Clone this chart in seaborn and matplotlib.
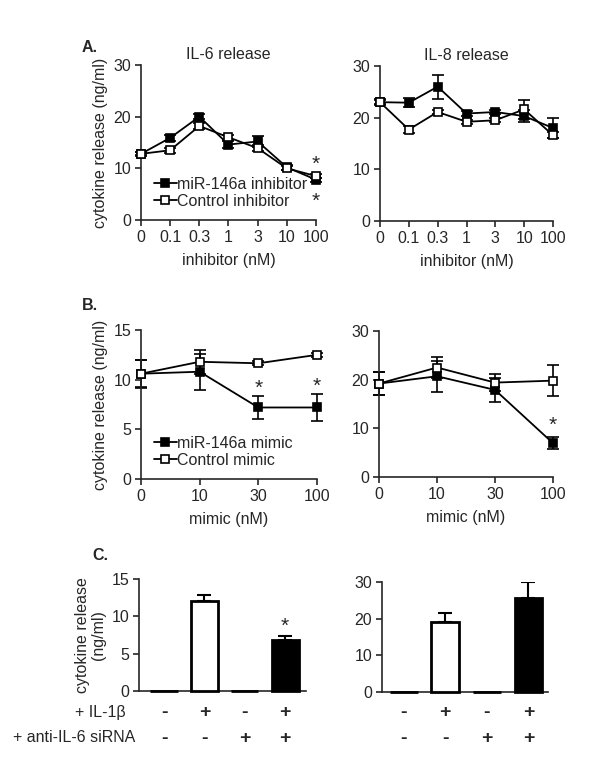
import numpy as np
import matplotlib
matplotlib.use('Agg')
import matplotlib.pyplot as plt
import matplotlib.transforms as mtransforms
import seaborn as sns

# --- dados ---
inhib_conc = ['0', '0.1', '0.3', '1', '3', '10', '100']
il6_inhib_mir = [12.8, 15.9, 20.0, 14.6, 15.2, 10.2, 7.8]
il6_inhib_mir_err = [0.4, 0.6, 0.5, 0.6, 1.0, 0.5, 0.4]
il6_inhib_ctrl = [12.8, 13.5, 18.2, 16.0, 13.9, 10.0, 8.5]
il6_inhib_ctrl_err = [0.3, 0.5, 0.5, 0.5, 0.6, 0.4, 0.4]

il8_inhib_mir = [23.0, 22.9, 26.0, 20.8, 21.1, 20.3, 18.0]
il8_inhib_mir_err = [0.6, 0.9, 2.3, 0.5, 0.4, 1.2, 2.0]
il8_inhib_ctrl = [23.0, 17.7, 21.1, 19.2, 19.5, 21.6, 16.6]
il8_inhib_ctrl_err = [0.4, 0.6, 0.4, 0.4, 0.4, 1.8, 0.6]

mimic_conc = ['0', '10', '30', '100']
il6_mimic_mir = [10.6, 10.8, 7.2, 7.2]
il6_mimic_mir_err = [1.4, 1.8, 1.2, 1.4]
il6_mimic_ctrl = [10.6, 11.8, 11.65, 12.5]
il6_mimic_ctrl_err = [1.35, 1.2, 0.2, 0.2]

il8_mimic_mir = [19.2, 20.7, 17.9, 6.95]
il8_mimic_mir_err = [2.4, 3.2, 2.4, 1.2]
il8_mimic_ctrl = [19.2, 22.5, 19.4, 19.8]
il8_mimic_ctrl_err = [2.4, 2.2, 1.7, 3.2]

il1b_signs = ['-', '+', '-', '+']
sirna_signs = ['-', '-', '+', '+']
il6_sirna = [0, 12.1, 0, 6.8]
il6_sirna_err = [0, 0.7, 0, 0.6]
il8_sirna = [0, 19.15, 0, 25.65]
il8_sirna_err = [0, 2.4, 0, 4.3]
bar_fill = ['white', 'white', 'black', 'black']

# --- estilo ---
sns.set_style('ticks')
plt.rcParams['font.family'] = ['Liberation Sans', 'DejaVu Sans']
plt.rcParams['font.size'] = 11

fig = plt.figure(figsize=(6, 7.82), dpi=100)
W, H = 600, 782


def eixo(x0, x1, y0, y1):
    # posicao em pixels da figura
    return fig.add_axes([x0 / W, 1 - y1 / H, (x1 - x0) / W, (y1 - y0) / H])


def estilo(ax):
    sns.despine(ax=ax)
    for s in ['left', 'bottom']:
        ax.spines[s].set_linewidth(1.2)
    ax.tick_params(direction='out', length=4, width=1.2, labelsize=11.5, pad=3)


def painel_linha(ax, conc, mir, mir_err, ctrl, ctrl_err, ymax, step, labels=None):
    pos = np.arange(len(conc))
    series = [(mir, mir_err, 'black'), (ctrl, ctrl_err, 'white')]
    for i, (vals, errs, face) in enumerate(series):
        eb = ax.errorbar(pos, vals, yerr=errs, fmt='none', ecolor='black',
                         elinewidth=1.2, capsize=4, capthick=1.2, zorder=2)
        for art in eb.lines[1] + eb.lines[2]:
            art.set_clip_on(False)
        sns.lineplot(x=pos, y=vals, ax=ax, color='black', lw=1.3, marker='s',
                     markersize=6, markerfacecolor=face, markeredgecolor='black',
                     markeredgewidth=1.2, zorder=3, clip_on=False,
                     label=labels[i] if labels else None, legend=False)
    ax.set_xlim(0, len(conc) - 1)
    ax.set_ylim(0, ymax)
    ax.set_yticks(np.arange(0, ymax + 0.1, step))
    ax.set_xticks(pos)
    ax.set_xticklabels(conc)
    estilo(ax)
    if labels:
        ax.legend(loc='lower left', bbox_to_anchor=(0.03, 0.02), frameon=False,
                  handlelength=1.4, handletextpad=0.0, labelspacing=0.15,
                  borderpad=0, fontsize=11.5)
    return pos


def asterisco(ax, x, y):
    ax.text(x, y, '*', ha='center', va='center', fontsize=15, clip_on=False)


# A. inibidor
axA1 = eixo(141, 316, 65, 220)
pos = painel_linha(axA1, inhib_conc, il6_inhib_mir, il6_inhib_mir_err,
                   il6_inhib_ctrl, il6_inhib_ctrl_err, 30, 10,
                   labels=['miR-146a inhibitor', 'Control inhibitor'])
axA1.set_title('IL-6 release', fontsize=11.5, pad=4)
axA1.set_ylabel('cytokine release (ng/ml)', fontsize=11.5)
axA1.set_xlabel('inhibitor (nM)', labelpad=6, fontsize=11.5)
asterisco(axA1, pos[6], il6_inhib_ctrl[6] + il6_inhib_ctrl_err[6] + 1.8)
asterisco(axA1, pos[6], il6_inhib_mir[6] - il6_inhib_mir_err[6] - 3.8)

axA2 = eixo(380, 553, 66, 221)
painel_linha(axA2, inhib_conc, il8_inhib_mir, il8_inhib_mir_err,
             il8_inhib_ctrl, il8_inhib_ctrl_err, 30, 10)
axA2.set_title('IL-8 release', fontsize=11.5, pad=4)
axA2.set_xlabel('inhibitor (nM)', labelpad=6, fontsize=11.5)
axA2.set_ylabel('')

# B. mimic
axB1 = eixo(141, 317, 330, 479)
pos = painel_linha(axB1, mimic_conc, il6_mimic_mir, il6_mimic_mir_err,
                   il6_mimic_ctrl, il6_mimic_ctrl_err, 15, 5,
                   labels=['miR-146a mimic', 'Control mimic'])
axB1.set_ylabel('cytokine release (ng/ml)', fontsize=11.5)
axB1.set_xlabel('mimic (nM)', labelpad=6, fontsize=11.5)
for i in [2, 3]:
    asterisco(axB1, pos[i], il6_mimic_mir[i] + il6_mimic_mir_err[i] + 0.7)

axB2 = eixo(379, 553, 331, 477)
pos = painel_linha(axB2, mimic_conc, il8_mimic_mir, il8_mimic_mir_err,
                   il8_mimic_ctrl, il8_mimic_ctrl_err, 30, 10)
axB2.set_xlabel('mimic (nM)', labelpad=6, fontsize=11.5)
axB2.set_ylabel('')
asterisco(axB2, pos[3], il8_mimic_mir[3] + il8_mimic_mir_err[3] + 2.5)


# C. siRNA
def painel_barra(ax, vals, errs, ymax, step, xlim):
    pos = np.arange(len(vals))
    sns.barplot(x=pos, y=vals, hue=pos, palette=bar_fill, legend=False,
                saturation=1, edgecolor='black', linewidth=2, width=0.67,
                ax=ax, zorder=3, clip_on=False)
    idx = [i for i in pos if errs[i] > 0]
    ax.errorbar([pos[i] for i in idx], [vals[i] for i in idx],
                yerr=[[0] * len(idx), [errs[i] for i in idx]], fmt='none',
                ecolor='black', elinewidth=1.5, capsize=5, capthick=1.5, zorder=2)
    ax.set_xlim(*xlim)
    ax.set_ylim(0, ymax)
    ax.set_yticks(np.arange(0, ymax + 0.1, step))
    ax.set_xticks([])
    ax.set_xlabel('')
    estilo(ax)
    trans = mtransforms.blended_transform_factory(ax.transData, ax.transAxes)
    for i in pos:
        ax.text(i, -0.19, il1b_signs[i], transform=trans, ha='center',
                va='center', fontsize=14, fontweight='bold')
        ax.text(i, -0.42, sirna_signs[i], transform=trans, ha='center',
                va='center', fontsize=14, fontweight='bold')
    return pos


axC1 = eixo(139, 306, 579, 691)
pos = painel_barra(axC1, il6_sirna, il6_sirna_err, 15, 5, (-0.62, 3.52))
axC1.set_ylabel('cytokine release\n(ng/ml)', linespacing=1.1, fontsize=11.5)
asterisco(axC1, pos[3], il6_sirna[3] + il6_sirna_err[3] + 1.2)

axC2 = eixo(382, 548, 582, 692)
painel_barra(axC2, il8_sirna, il8_sirna_err, 30, 10, (-0.52, 3.47))
axC2.set_ylabel('')

fig.text(75 / W, 1 - 713 / H, '+ IL-1\u03b2', ha='left', va='center', fontsize=11.5)
fig.text(13 / W, 1 - 738 / H, '+ anti-IL-6 siRNA', ha='left', va='center', fontsize=11.5)

# letras dos paineis
fig.text(82 / W, 1 - 48 / H, 'A.', fontweight='bold', fontsize=11.5, ha='left', va='center')
fig.text(82 / W, 1 - 305 / H, 'B.', fontweight='bold', fontsize=11.5, ha='left', va='center')
fig.text(92 / W, 1 - 556 / H, 'C.', fontweight='bold', fontsize=11.5, ha='left', va='center')

fig.savefig('out.png', dpi=100)
